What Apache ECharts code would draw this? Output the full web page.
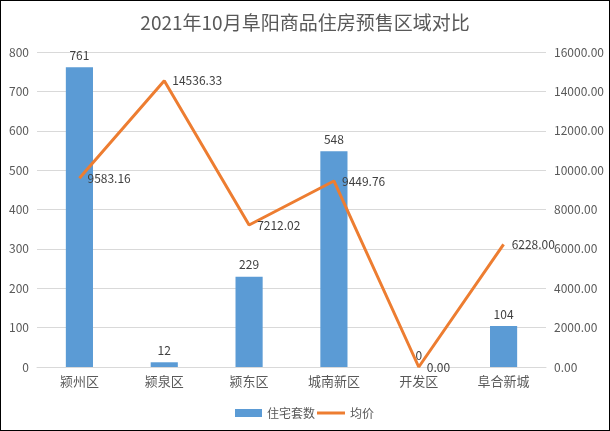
<!DOCTYPE html>
<html><head><meta charset="utf-8">
<script src="https://cdn.jsdelivr.net/npm/echarts@6/dist/echarts.min.js"></script>
<style>
html,body{margin:0;padding:0;background:#fff;}
#c{width:608px;height:429px;border:1px solid #000;}
</style></head>
<body><div id="c"></div>
<script>
const title = '2021年10月阜阳商品住房预售区域对比';
const categories = ['颍州区','颍泉区','颍东区','城南新区','开发区','阜合新城'];
const units = [761, 12, 229, 548, 0, 104];
const prices = [9583.16, 14536.33, 7212.02, 9449.76, 0.00, 6228.00];
const leftTicks = {min:0, max:800, interval:100};
const rightTicks = {min:0, max:16000, interval:2000};

const chart = echarts.init(document.getElementById('c'));
const txt = '#595959';
const font = '"Noto Sans CJK SC", "Microsoft YaHei", sans-serif';
chart.setOption({
  animation:false,
  textStyle:{fontFamily:font},
  title:{text:title,left:'center',top:7,textStyle:{fontSize:19,fontWeight:'normal',color:txt,fontFamily:font}},
  grid:{left:36,right:63,top:51,bottom:63},
  legend:[
    {left:229,top:401,itemWidth:27,itemHeight:8,itemGap:4,textStyle:{color:txt,fontSize:12},
     data:[{name:'住宅套数',icon:'rect'}]},
    {left:311,top:401,itemWidth:28,itemHeight:3,itemGap:4,textStyle:{color:txt,fontSize:12},
     data:[{name:'均价',icon:'rect',itemStyle:{color:'#ED7D31'}}]}
  ],
  xAxis:{type:'category',data:categories,axisTick:{show:false},
    axisLine:{lineStyle:{color:'#d9d9d9'}},axisLabel:{color:txt,fontSize:13,margin:8}},
  yAxis:[
    {type:'value',min:leftTicks.min,max:leftTicks.max,interval:leftTicks.interval,
     axisLabel:{color:txt,fontSize:12,margin:8},splitLine:{lineStyle:{color:'#d9d9d9'}},axisLine:{show:false},axisTick:{show:false}},
    {type:'value',min:rightTicks.min,max:rightTicks.max,interval:rightTicks.interval,
     axisLabel:{color:txt,fontSize:12,margin:8,formatter:v=>v.toFixed(2)},splitLine:{show:false},axisLine:{show:false},axisTick:{show:false}}
  ],
  series:[
    {name:'住宅套数',type:'bar',data:units,barWidth:'32%',itemStyle:{color:'#5B9BD5'},
     label:{show:true,position:'top',color:'#404040',fontSize:12,distance:6}},
    {name:'均价',type:'line',yAxisIndex:1,data:prices,symbol:'circle',symbolSize:0.1,showSymbol:true,
     lineStyle:{color:'#ED7D31',width:3},itemStyle:{color:'#ED7D31'},
     label:{show:true,position:'right',color:'#404040',fontSize:12,distance:8,formatter:p=>p.value.toFixed(2)}}
  ]
});
</script></body></html>
